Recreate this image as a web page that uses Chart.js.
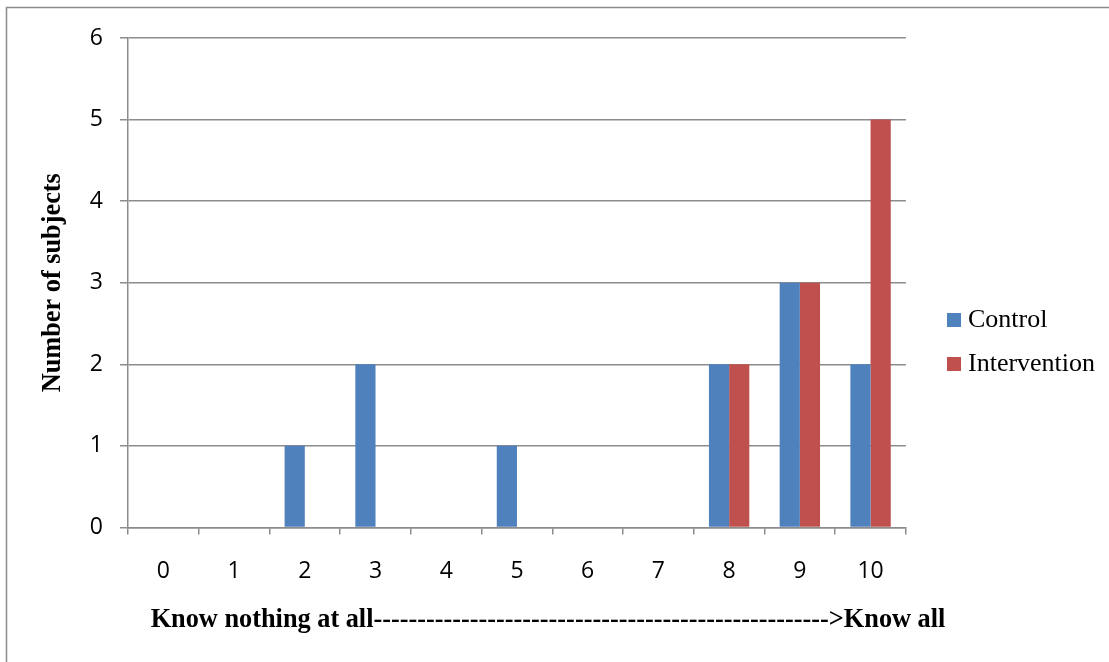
<!DOCTYPE html>
<html>
<head>
<meta charset="utf-8">
<title>Number of subjects by knowledge score</title>
<script src="https://cdn.jsdelivr.net/npm/chart.js@4/dist/chart.umd.min.js"></script>
<style>
    html, body { margin: 0; padding: 0; background: #fff; }
    #chartBox { position: relative; width: 1109px; height: 662px; }
</style>
</head>
<body>
<div id="chartBox"><canvas id="knowledgeChart"></canvas></div>
<script>
    // Self-rated knowledge score, 0 = know nothing, 10 = know all
    const scoreLabels = ['0', '1', '2', '3', '4', '5', '6', '7', '8', '9', '10'];
    const controlCounts = [0, 0, 1, 2, 0, 1, 0, 0, 2, 3, 2];
    const interventionCounts = [0, 0, 0, 0, 0, 0, 0, 0, 2, 3, 5];
    const countRange = [0, 6];

    const GRID = '#8c8c8c';
    const SERIF = 'Liberation Serif';
    const SANS = 'Open Sans';

    // small filled square used as the legend marker
    function swatch(color) {
        const c = document.createElement('canvas');
        c.width = 14;
        c.height = 14;
        const g = c.getContext('2d');
        g.fillStyle = color;
        g.fillRect(0, 0, 14, 14);
        return c;
    }

    // outer frame + final placement of legend and bottom caption
    const framePlugin = {
        id: 'frame',
        afterLayout(chart) {
            const lg = chart.legend;
            const dx = 935 - lg.left;
            lg.left += dx;
            lg.right += dx;
            lg.top += 2;
            lg.bottom += 2;

            const tb = chart.titleBlock;
            const shift = 548 - (tb.left + tb.right) / 2;
            tb.left += shift;
            tb.right += shift;
        },
        beforeDraw(chart) {
            const ctx = chart.ctx;
            ctx.save();
            ctx.strokeStyle = GRID;
            ctx.lineWidth = 1.5;
            ctx.beginPath();
            ctx.moveTo(6.5, chart.height);
            ctx.lineTo(6.5, 7.5);
            ctx.lineTo(chart.width, 7.5);
            ctx.stroke();
            ctx.restore();
        }
    };

    const ctx = document.getElementById('knowledgeChart').getContext('2d');
    new Chart(ctx, {
        type: 'bar',
        data: {
            labels: scoreLabels,
            datasets: [
                {
                    label: 'Control',
                    data: controlCounts,
                    backgroundColor: '#4f81bd',
                    categoryPercentage: 0.571,
                    barPercentage: 1
                },
                {
                    label: 'Intervention',
                    data: interventionCounts,
                    backgroundColor: '#c0504d',
                    categoryPercentage: 0.571,
                    barPercentage: 1
                }
            ]
        },
        options: {
            responsive: true,
            maintainAspectRatio: false,
            animation: false,
            layout: { padding: { top: 38, right: 33, bottom: 20, left: 0 } },
            plugins: {
                tooltip: { enabled: false },
                legend: {
                    position: 'right',
                    labels: {
                        color: '#000',
                        font: { family: SERIF, size: 26 },
                        padding: 18,
                        usePointStyle: true,
                        pointStyleWidth: 2,
                        generateLabels(chart) {
                            const items = Chart.defaults.plugins.legend.labels.generateLabels(chart);
                            items.forEach(it => { it.pointStyle = swatch(it.fillStyle); });
                            return items;
                        }
                    }
                },
                title: {
                    display: true,
                    position: 'bottom',
                    text: 'Know nothing at all' + '-'.repeat(52) + '>Know all',
                    color: '#000',
                    font: { family: SERIF, size: 26.3, weight: 'bold' },
                    padding: { top: 19, bottom: 6 }
                }
            },
            scales: {
                x: {
                    offset: true,
                    grid: {
                        offset: true,
                        drawOnChartArea: false,
                        tickLength: 7,
                        color: GRID,
                        lineWidth: 1.5
                    },
                    border: { color: GRID, width: 1.5 },
                    ticks: {
                        color: '#000',
                        font: { family: SANS, size: 23 },
                        padding: 23,
                        maxRotation: 0,
                        autoSkip: false
                    },
                    afterFit(scale) { scale.height = 58; }
                },
                y: {
                    min: countRange[0],
                    max: countRange[1],
                    grid: { color: GRID, lineWidth: 1.5, tickLength: 8 },
                    border: { color: GRID, width: 1.5 },
                    ticks: {
                        stepSize: 1,
                        color: '#000',
                        font: { family: SANS, size: 23 },
                        padding: 17
                    },
                    title: {
                        display: true,
                        text: 'Number of subjects',
                        color: '#000',
                        font: { family: SERIF, size: 26.3, weight: 'bold' },
                        padding: { top: 37, bottom: 0 }
                    },
                    afterFit(scale) { scale.width = 128; }
                }
            }
        },
        plugins: [framePlugin]
    });
</script>
</body>
</html>
